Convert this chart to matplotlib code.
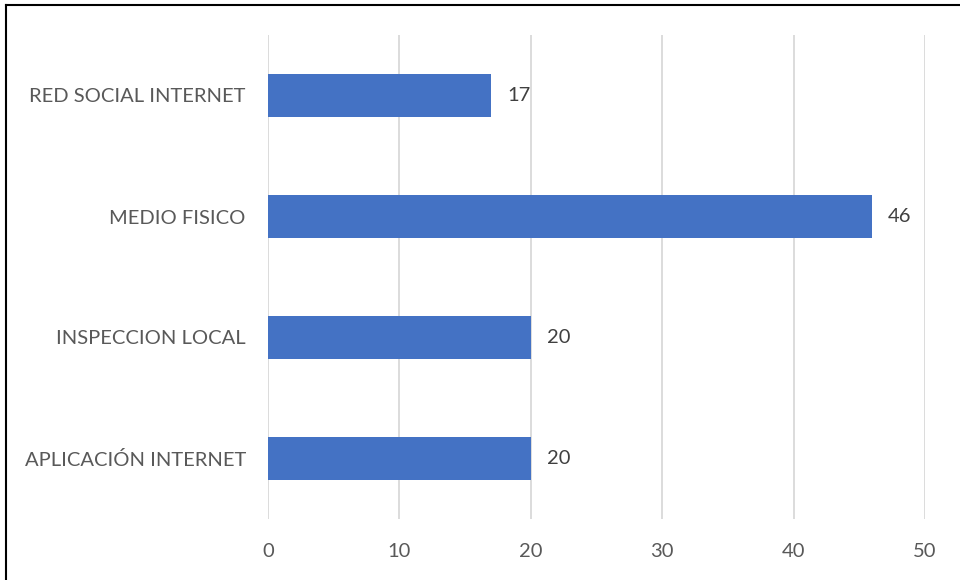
import matplotlib.pyplot as plt
from matplotlib.lines import Line2D

categories = ['APLICACIÓN INTERNET', 'INSPECCION LOCAL', 'MEDIO FISICO', 'RED SOCIAL INTERNET']
values = [20, 20, 46, 17]
xticks = [0, 10, 20, 30, 40, 50]

plt.rcParams['font.family'] = ['Lato', 'DejaVu Sans']

fig = plt.figure(figsize=(9.6, 5.8), dpi=100)
ax = fig.add_axes([268 / 960, 1 - 519 / 580, (925 - 268) / 960, (519 - 35) / 580])

pos = range(len(categories))
ax.barh(pos, values, height=0.35, color='#4472C4', zorder=3)
for p, v in zip(pos, values):
    ax.text(v + 1.2, p, str(v), va='center', ha='left', fontsize=14.5, color='#404040')

ax.set_xlim(0, 50)
ax.set_ylim(-0.5, len(categories) - 0.5)
ax.set_xticks(xticks)
ax.set_yticks(list(pos))
ax.set_yticklabels(categories)
ax.tick_params(axis='both', length=0, labelsize=14.5, labelcolor='#595959')
ax.tick_params(axis='x', pad=17)
ax.tick_params(axis='y', pad=16)
ax.grid(axis='x', color='#D9D9D9', linewidth=1.3, zorder=0)
for s in ax.spines.values():
    s.set_visible(False)

# outer frame (left and top edges only visible)
fig.add_artist(Line2D([6 / 960, 6 / 960], [0, 1 - 5 / 580], transform=fig.transFigure, color='black', lw=1.5))
fig.add_artist(Line2D([6 / 960, 1], [1 - 5 / 580, 1 - 5 / 580], transform=fig.transFigure, color='black', lw=1.5))

fig.savefig('out.png', dpi=100)
